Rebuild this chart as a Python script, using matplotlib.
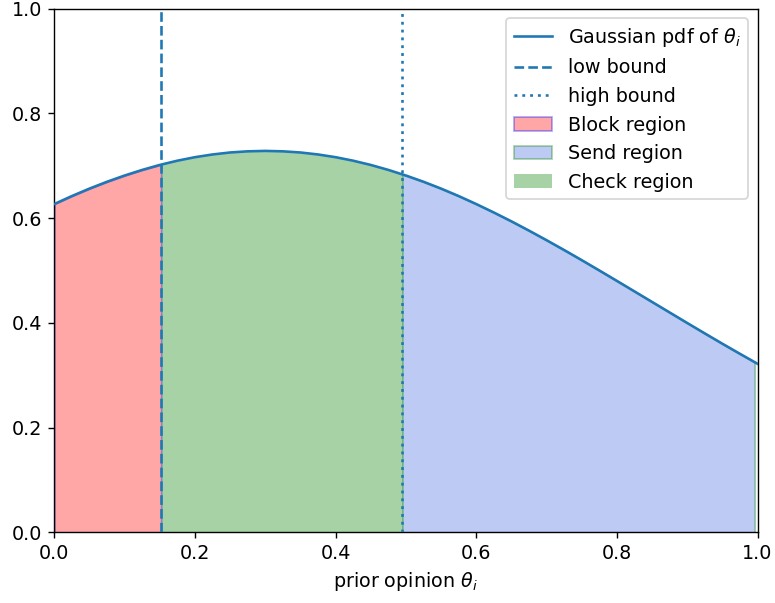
import numpy as np
import matplotlib.pyplot as plt

# prior opinion grid and the pdf
theta = [0.0, 0.025, 0.05, 0.075, 0.1, 0.125, 0.15, 0.175, 0.2, 0.225, 0.25, 0.275,
         0.3, 0.325, 0.35, 0.375, 0.4, 0.425, 0.45, 0.475, 0.5, 0.525, 0.55, 0.575,
         0.6, 0.625, 0.65, 0.675, 0.7, 0.725, 0.75, 0.775, 0.8, 0.825, 0.85, 0.875,
         0.9, 0.925, 0.95, 0.975, 1.0]
pdf = [0.6269, 0.6422, 0.6564, 0.6695, 0.6814, 0.6921, 0.7016, 0.7097, 0.7164, 0.7216,
       0.7254, 0.7276, 0.7284, 0.7276, 0.7254, 0.7216, 0.7164, 0.7097, 0.7016, 0.6921,
       0.6814, 0.6695, 0.6564, 0.6422, 0.6269, 0.6108, 0.5939, 0.5762, 0.5579, 0.5391,
       0.5198, 0.5001, 0.4802, 0.4601, 0.4400, 0.4199, 0.3998, 0.3799, 0.3602, 0.3409,
       0.3219]

low_bound = 0.152
high_bound = 0.495
send_end = 0.996


def region(a, b):
    xs = [a] + [t for t in theta if a < t < b] + [b]
    ys = np.interp(xs, theta, pdf)
    return xs, ys


plt.rc('font', size=11)
fig = plt.figure(figsize=(6.2, 4.824), dpi=125)
ax = fig.add_axes([54.3 / 775, 70.7 / 603, 703.2 / 775, 523.6 / 603])

ax.plot(theta, pdf, color='tab:blue', label=r'Gaussian pdf of $\theta_i$', zorder=3)
ax.axvline(low_bound, color='tab:blue', linestyle='--', label='low bound', zorder=3)
ax.axvline(high_bound, color='tab:blue', linestyle=(0, (1.1, 1.9)), label='high bound', zorder=3)

xb, yb = region(0.0, low_bound)
ax.fill_between(xb, 0, yb, facecolor='red', edgecolor='blue', alpha=0.35, label='Block region')
xs, ys = region(high_bound, send_end)
ax.fill_between(xs, 0, ys, facecolor='royalblue', edgecolor='green', alpha=0.35, label='Send region')
xc, yc = region(low_bound, high_bound)
ax.fill_between(xc, 0, yc, facecolor='green', edgecolor='green', alpha=0.35, linewidth=0,
                label='Check region')

ax.set_xlim(0, 1)
ax.set_ylim(0, 1)
ax.set_xlabel(r'prior opinion $\theta_i$')
ax.legend(loc='upper right')

plt.savefig('out.png', dpi=125)
plt.close()
